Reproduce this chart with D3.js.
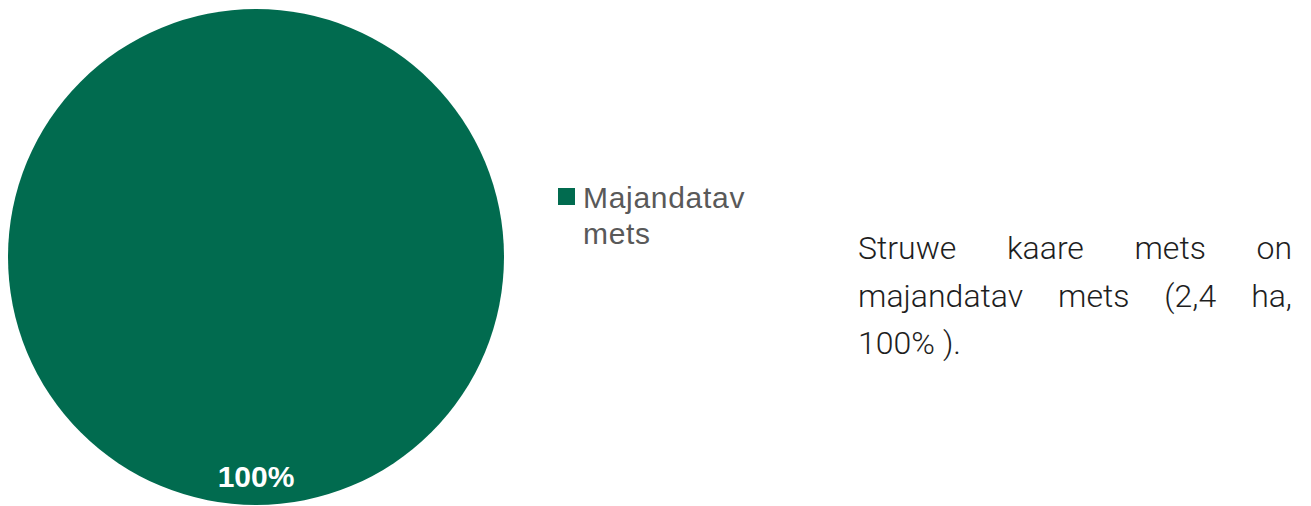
<!DOCTYPE html>
<html><head><meta charset="utf-8">
<script src="https://cdn.jsdelivr.net/npm/d3@7/dist/d3.min.js"></script>
<style>body{margin:0;background:#fff}svg{display:block}</style>
</head><body>
<svg id="c" width="1311" height="506"></svg>
<script>
const categories = ["Majandatav mets"];
const values = [2.4];
const percentLabels = ["100%"];
const colors = ["#016b4f"];
const noteLines = [
  ["Struwe","kaare","mets","on"],
  ["majandatav","mets","(2,4","ha,"],
  ["100%",")."]
];

const AR = '"Liberation Sans", Arial, sans-serif';
const RB = 'Roboto, "Liberation Sans", sans-serif';
const svg = d3.select("#c");
const cx = 256, cy = 257, r = 248;
const pie = d3.pie().sort(null)(values);
const arc = d3.arc().innerRadius(0).outerRadius(r);
const g = svg.append("g").attr("transform", `translate(${cx},${cy})`);
g.selectAll("path").data(pie).join("path")
  .attr("d", arc).attr("fill", (d,i)=>colors[i]);
g.selectAll("text").data(pie).join("text")
  .style("font-family", AR)
  .attr("x", 0).attr("y", 230)
  .attr("text-anchor","middle")
  .attr("font-weight","bold").attr("font-size",30).attr("fill","#fff")
  .text((d,i)=>percentLabels[i]);

// legend
const lg = svg.append("g").attr("transform","translate(558,188)");
lg.append("rect").attr("width",17).attr("height",17).attr("fill",colors[0]);
const words = categories[0].split(" ");
lg.append("text").style("font-family", AR)
  .attr("font-size",30).attr("letter-spacing",0.7).attr("fill","#595959")
  .selectAll("tspan").data(words).join("tspan")
  .attr("x",25).attr("y",(d,i)=>19.5 + i*36.5).text(d=>d);

// note text (justified)
const nx0 = 858, nx1 = 1292, lh = 47.5, by = 259;
noteLines.forEach((ln, li) => {
  const y = by + li*lh;
  const t = svg.append("g");
  const ws = ln.map(w => t.append("text").style("font-family", RB).attr("font-size",32)
    .attr("font-weight",300).attr("fill","#1e1e1e").attr("y",y).text(w));
  const widths = ws.map(s=>s.node().getComputedTextLength());
  const total = d3.sum(widths);
  const justify = li < noteLines.length-1;
  const gap = justify ? (nx1-nx0-total)/(ln.length-1) : 8;
  let x = nx0;
  ws.forEach((s,i)=>{ s.attr("x",x); x += widths[i]+gap; });
});
</script>
</body></html>
